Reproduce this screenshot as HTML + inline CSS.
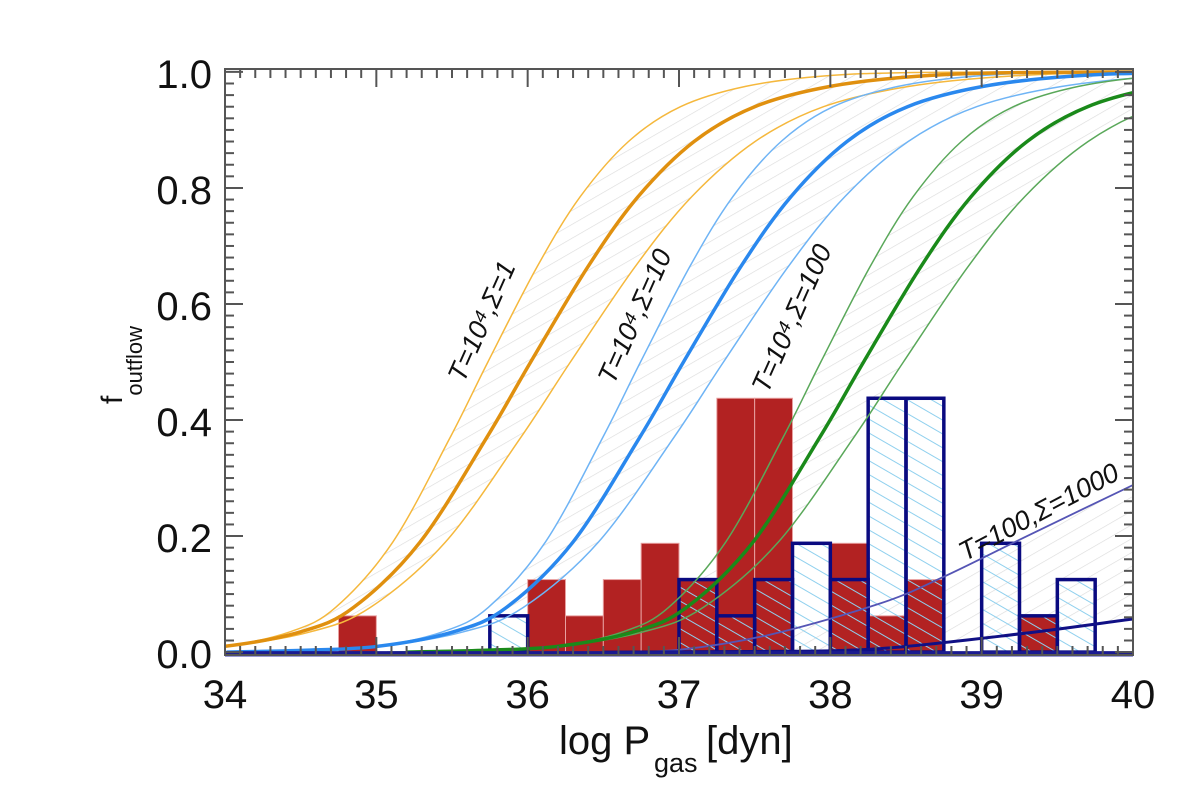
<!DOCTYPE html>
<html><head><meta charset="utf-8"><style>
html,body{margin:0;padding:0;background:#fff}
svg{display:block;font-family:"Liberation Sans",sans-serif}
</style></head><body>
<svg id="chart" width="1200" height="797" viewBox="0 0 1200 797">
<defs>
<pattern id="grayHatch" width="12" height="12" patternUnits="userSpaceOnUse" patternTransform="rotate(-30)">
<line x1="0" y1="0" x2="12" y2="0" stroke="#dcdcdc" stroke-width="1.3"/></pattern>
<pattern id="blueHatch" width="12" height="12" patternUnits="userSpaceOnUse" patternTransform="rotate(30)">
<line x1="0" y1="0" x2="12" y2="0" stroke="#8fd0ee" stroke-width="2"/></pattern>
<clipPath id="plotClip"><rect x="225" y="69" width="908" height="588"/></clipPath>
</defs>
<g id="bands" clip-path="url(#plotClip)"></g>
<g id="bars" clip-path="url(#plotClip)"></g>
<g id="curves" clip-path="url(#plotClip)"></g>
<g id="axes"></g>
<g id="labels" font-style="italic" font-size="27" fill="#111">
<text transform="translate(490,325) rotate(-66)" text-anchor="middle">T=10⁴,Σ=1</text>
<text transform="translate(643,320) rotate(-66)" text-anchor="middle">T=10⁴,Σ=10</text>
<text transform="translate(800,322) rotate(-66)" text-anchor="middle">T=10⁴,Σ=100</text>
<text transform="translate(1043,520) rotate(-28)" text-anchor="middle">T=100,Σ=1000</text>
</g>
<g fill="#111">
<text x="559" y="754" font-size="40">log P</text>
<text x="654" y="772" font-size="27">gas</text>
<text x="706" y="754" font-size="40">[dyn]</text>
</g>
<text transform="translate(122,404) rotate(-90)" font-size="30" fill="#111">f<tspan font-size="22" dy="20">outflow</tspan></text>
</svg>
<script>
const binStarts=[34.75,35.0,35.25,35.5,35.75,36.0,36.25,36.5,36.75,37.0,37.25,37.5,37.75,38.0,38.25,38.5,38.75,39.0,39.25,39.5];
const redCounts=[1,0,0,0,0,2,1,2,3,2,7,7,0,3,1,2,0,0,1,0];
const blueCounts=[0,0,0,0,1,0,0,0,0,2,1,2,3,2,7,7,0,3,1,2];
const binTotal=[16];
const binWidth=[0.25];
// orange (T=1e4, Sigma=1) model curve
const shapeX=[33.0,33.5,34.0,34.5,34.85,35.29,35.73,36.02,36.4,36.73,37.1,37.5,38.0,38.6,39.3,40.5];
const shapeF=[0.0,0.003,0.01,0.035,0.077,0.19,0.37,0.5,0.665,0.785,0.88,0.94,0.975,0.993,0.999,1.0];
const curveShift=[0.0,1.01,2.2];
const curveOrigin=[34.0,35.0,36.2];
const bandLowFactor=[0.86];
const bandHighFactor=[1.13];
const navyThinX=[36.5,37.0,37.6,38.33,38.75,39.3,40.0,40.2];
const navyThinF=[0.0,0.004,0.03,0.084,0.13,0.2,0.288,0.31];
const navyThickX=[36.5,37.5,38.33,39.3,40.0,40.2];
const navyThickF=[0.0,0.001,0.006,0.033,0.057,0.063];
const xTicks=[34,35,36,37,38,39,40];
const yTicks=[0.0,0.2,0.4,0.6,0.8,1.0];
const yTickLabels=["0.0","0.2","0.4","0.6","0.8","1.0"];
const X0=225,X1=1133,Y0=655,Y1=69,XMIN=34,XMAX=40,YMIN=-0.005,YMAX=1.005;
const xs=v=>X0+(v-XMIN)/(XMAX-XMIN)*(X1-X0);
const ys=v=>Y0-(v-YMIN)/(YMAX-YMIN)*(Y0-Y1);
const NS='http://www.w3.org/2000/svg';
function mk(tag,attrs,parent){const e=document.createElementNS(NS,tag);for(const k in attrs)e.setAttribute(k,attrs[k]);parent.appendChild(e);return e;}
function toPts(X,F){return X.map((x,i)=>[xs(x),ys(F[i])]);}
function smooth(p){let d='M'+p[0][0].toFixed(1)+','+p[0][1].toFixed(1);
 for(let i=0;i<p.length-1;i++){const a=p[i-1]||p[i],b=p[i],c=p[i+1],e=p[i+2]||c;
  const c1=[b[0]+(c[0]-a[0])/6,b[1]+(c[1]-a[1])/6],c2=[c[0]-(e[0]-b[0])/6,c[1]-(e[1]-b[1])/6];
  d+='C'+c1[0].toFixed(1)+','+c1[1].toFixed(1)+' '+c2[0].toFixed(1)+','+c2[1].toFixed(1)+' '+c[0].toFixed(1)+','+c[1].toFixed(1);}
 return d;}
const bands=document.getElementById('bands'),bars=document.getElementById('bars'),curves=document.getElementById('curves'),axes=document.getElementById('axes');
const colsThin=['#f5b83d','#6fb4f5','#5aa85a'],colsThick=['#e0900f','#2a88ee','#1a8a1a'];
const famX=curveShift.map(s=>shapeX.map(x=>x+s));
const scaleX=(X,o,r)=>X.map(x=>o+(x-o)*r);
famX.forEach((X,i)=>{
 const lo=scaleX(X,curveOrigin[i],bandLowFactor[0]),hi=scaleX(X,curveOrigin[i],bandHighFactor[0]);
 const a=toPts(lo,shapeF),b=toPts(hi,shapeF);
 const band=mk('path',{d:smooth(a)+smooth(b.slice().reverse()).replace('M','L')+'Z',fill:'url(#grayHatch)'},bands);
 
 
 [a,b].forEach(p=>{const c=mk('path',{d:smooth(p),fill:'none',stroke:colsThin[i],'stroke-width':1.5},curves);
  
  });
});
{const a=toPts(navyThinX,navyThinF),b=toPts(navyThickX,navyThickF);
 const band=mk('path',{d:smooth(a)+smooth(b.slice().reverse()).replace('M','L')+'Z',fill:'url(#grayHatch)'},bands);
 
 }
const w=binWidth[0];
binStarts.forEach((b,i)=>{if(redCounts[i]>0){const h=redCounts[i]/binTotal[0];
 const r=mk('rect',{x:xs(b),y:ys(h),width:xs(b+w)-xs(b),height:ys(0)-ys(h),fill:'#b22222',stroke:'#e8a0a0','stroke-width':1},bars);
 
 }});
binStarts.forEach((b,i)=>{if(blueCounts[i]>0){const h=blueCounts[i]/binTotal[0];
 const r=mk('rect',{x:xs(b),y:ys(h),width:xs(b+w)-xs(b),height:ys(0)-ys(h),fill:'url(#blueHatch)',stroke:'#0a0a80','stroke-width':3.5},bars);
 
 }});
famX.forEach((X,i)=>{
 const p=mk('path',{d:smooth(toPts(X,shapeF)),fill:'none',stroke:colsThick[i],'stroke-width':3.5},curves);
 
 
});
{const p=mk('path',{d:smooth(toPts(navyThinX,navyThinF)),fill:'none',stroke:'#5555b5','stroke-width':1.8},curves);


const q=mk('path',{d:smooth(toPts(navyThickX,navyThickF)),fill:'none',stroke:'#101085','stroke-width':3},curves);

}
const bl=mk('line',{x1:X0,y1:ys(0)+1,x2:X1,y2:ys(0)+1,stroke:'#1a1a90','stroke-width':4},curves);


const bl2=mk('line',{x1:X0,y1:ys(0)+4,x2:X1,y2:ys(0)+4,stroke:'#9a9ad8','stroke-width':3},curves);


const frame=mk('rect',{x:X0,y:Y1,width:X1-X0,height:Y0-Y1,fill:'none',stroke:'#555','stroke-width':2},axes);


for(let k=0;k<=60;k++){const v=XMIN+k*0.1,x=xs(v),L=k%10===0?18:9;
 mk('line',{x1:x,y1:Y0,x2:x,y2:Y0-L,stroke:'#555','stroke-width':2},axes);
 mk('line',{x1:x,y1:Y1,x2:x,y2:Y1+L,stroke:'#555','stroke-width':2},axes);}
for(let k=0;k<=50;k++){const v=k*0.02,y=ys(v),L=k%10===0?18:9;
 mk('line',{x1:X0,y1:y,x2:X0+L,y2:y,stroke:'#555','stroke-width':2},axes);
 mk('line',{x1:X1,y1:y,x2:X1-L,y2:y,stroke:'#555','stroke-width':2},axes);}
xTicks.forEach(v=>{const t=mk('text',{x:xs(v),y:708,'font-size':40,'text-anchor':'middle',fill:'#111'},axes);t.textContent=v;
 
 });
yTicks.forEach((v,i)=>{const t=mk('text',{x:212,y:ys(v)+16,'font-size':40,'text-anchor':'end',fill:'#111'},axes);t.textContent=yTickLabels[i];
 
 });
</script>
</body></html>
